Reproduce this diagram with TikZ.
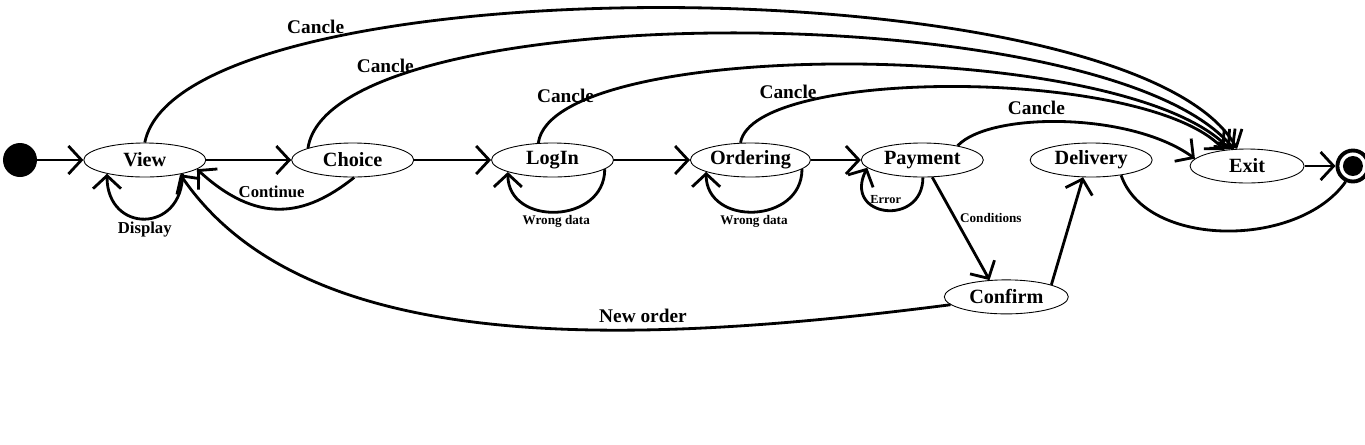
\documentclass[tikz,border=0pt]{standalone}
\usepackage{fontspec}
\setmainfont{Liberation Serif}
\usepackage{tikz}
\usetikzlibrary{arrows.meta,positioning,shapes.geometric,calc}
\tikzset{
    state/.style={
        ellipse,
        draw,
        line width=0.5pt,
        fill=white,
        inner sep=0pt,
        minimum width=2.44cm,
        minimum height=0.68cm,
        font=\fontsize{11.5}{13}\selectfont\bfseries
    },
    flow/.style={-{Straight Barb[length=2.6mm,width=5.6mm]}, line width=1.6pt},
    plainFlow/.style={line width=1.6pt},
    bigLabel/.style={font=\fontsize{11}{13}\selectfont\bfseries},
    midLabel/.style={font=\fontsize{9.5}{11}\selectfont\bfseries},
    smallLabel/.style={font=\fontsize{7.5}{9}\selectfont\bfseries, inner sep=1pt}
}

\begin{document}
\begin{tikzpicture}
        \useasboundingbox (0,0) rectangle (27.3,-8.88);

        \node[circle, fill=black, minimum size=0.68cm, inner sep=0pt] (inicio) at (0.4,-3.2) {};
        \node[state, right=0.92cm of inicio] (view) {View};
        \node[state, right=1.7cm of view] (choice) {Choice};
        \node[state, right=1.54cm of choice] (login) {LogIn};
        \node[state, right=1.52cm of login, minimum width=2.4cm] (ordering) {Ordering};
        \node[state, right=1.0cm of ordering] (payment) {Payment};
        \node[state, right=0.92cm of payment] (delivery) {Delivery};
        \node[state, right=0.74cm of delivery, yshift=-0.12cm, minimum width=2.28cm] (exit) {Exit};
        \node[circle, draw, line width=2.2pt, minimum size=0.62cm, inner sep=0pt, right=0.62cm of exit] (fim) {};
        \node[circle, fill=black, minimum size=0.4cm, inner sep=0pt] (fimDot) at (fim) {};
        \node[state, below=2.04cm of payment, xshift=1.68cm, minimum width=2.48cm] (confirm) {Confirm};

        % main line
        \draw[flow] (inicio) -- (view);
        \draw[flow] (view) -- (choice);
        \draw[flow] (choice) -- (login);
        \draw[flow] (login) -- (ordering);
        \draw[flow] (ordering) -- (payment);
        \draw[flow] (exit) -- (fim);

        % loops
        \draw[flow] (view.-20) .. controls +(0,-1.2) and +(0,-1.2) .. (view.-160)
            node[midway, below, midLabel, inner sep=1pt] (lblDisplay) {Display};
        \draw[flow] (login.-10) .. controls +(0,-1.1) and +(0,-1.1) .. (login.-165)
            node[midway, below, smallLabel] (lblWrongLogin) {Wrong data};
        \draw[flow] (ordering.-10) .. controls +(0,-1.1) and +(0,-1.1) .. (ordering.-165)
            node[midway, below, smallLabel] (lblWrongOrder) {Wrong data};
        \draw[flow] (payment.-88) .. controls +(0,-1.0) and +(-0.5,-1.0) .. (payment.-172)
            node[pos=0.5, above=2pt, smallLabel, font=\fontsize{7}{8}\selectfont\bfseries] (lblError) {Error};

        % back to view
        \draw[flow] (choice.-85) .. controls +(-1.0,-0.8) and +(1.2,-1.1) .. (view.-10)
            node[pos=0.55, above=2pt, midLabel] (lblContinue) {Continue};
        \draw[flow] (confirm.-172) .. controls (12,-7.0) and (6,-7.0) .. (view.-22)
            node[pos=0.31, above, bigLabel] (lblNewOrder) {New order};

        % payment, confirm, delivery
        \draw[flow] (payment.-60) -- (confirm.135)
            node[pos=0.4, right=1pt, smallLabel] (lblConditions) {Conditions};
        \draw[flow] (confirm.15) -- (delivery.-115);
        \draw[plainFlow] (delivery.-27) .. controls +(0.5,-1.46) and +(-0.95,-1.34) .. (fim.-115);

        % cancle
        \draw[flow] (view.north) .. controls +(0.72,3.61) and +(-2.13,3.74) .. (exit.120)
            node[pos=0.25, above, bigLabel] (lblCancel1) {Cancle};
        \draw[flow] (choice.165) .. controls +(0.46,3.06) and +(-2.56,3.09) .. (exit.128)
            node[pos=0.18, above, bigLabel] (lblCancel2) {Cancle};
        \draw[flow] (login.130) .. controls +(0.28,2.12) and +(-2.18,2.25) .. (exit.136)
            node[pos=0.12, above, bigLabel] (lblCancel3) {Cancle};
        \draw[flow] (ordering.120) .. controls +(0.25,1.52) and +(-1.57,1.66) .. (exit.145)
            node[pos=0.2, above, bigLabel] (lblCancel4) {Cancle};
        \draw[flow] (payment.22) .. controls +(0.64,0.68) and +(-1.29,0.94) .. (exit.172)
            node[pos=0.4, above, bigLabel] (lblCancel5) {Cancle};
\end{tikzpicture}
\end{document}
